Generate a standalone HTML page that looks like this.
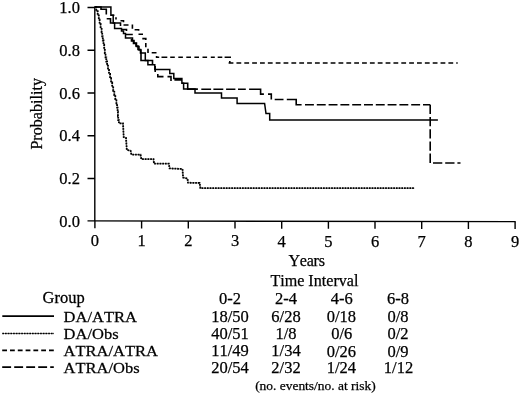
<!DOCTYPE html>
<html><head><meta charset="utf-8">
<style>
html,body{margin:0;padding:0;background:#fff;}
body{width:520px;height:393px;overflow:hidden;}
svg{display:block;}
text{font-family:"Liberation Serif",serif;fill:#000;stroke:#000;stroke-width:0.25;font-kerning:none;}
svg{filter:blur(0.35px);}
</style></head>
<body>
<svg width="520" height="393" viewBox="0 0 520 393">
<rect width="520" height="393" fill="#fff"/>
<!-- axes -->
<g stroke="#000" stroke-width="1.4" fill="none">
<path d="M94.8,6.3 V221"/>
<path d="M87.5,220.9 L515.7,221.66"/>
<!-- y ticks -->
<path d="M87.5,7.5 H95 M87.5,50.2 H95 M87.5,93 H95 M87.5,135.7 H95 M87.5,178.5 H95"/>
<!-- x ticks -->
<path d="M94.9,220.90 V228.30 M141.6,220.98 V228.38 M188.3,221.07 V228.47 M235.0,221.15 V228.55 M281.7,221.24 V228.64 M328.4,221.32 V228.72 M375.0,221.40 V228.80 M421.7,221.49 V228.89 M468.4,221.57 V228.97 M515.1,221.66 V229.06"/>
</g>
<!-- curves -->
<g fill="none" stroke="#000" stroke-width="1.6">
<path id="solid" stroke-width="1.5" d="M95,7 H110.9 V15.3 H113.2 V23 H114.6 V28.5 H121.5 V31 H123.5 V33.5 H125.5 V38 H132.5 V40.5 H134 V43 H136.5 V46.5 H139 V50 H141 V53 H145.3 V60.5 H147.9 V64.8 H154.8 V69.4 H169.8 V73.5 H173.8 V78.6 H181.9 V83.3 H183.6 V89 H195 V92.9 H221.5 V98 H237.1 V103.5 H264.6 L266,113.6 H269.7 V119.9 H437.9"/>
<path id="ldash1" d="M95,7 H101 V9.3 H106.3 V14.5 M106.7,18.8 H110.5 V23 H120.5 V26 M122,29.5 H126.5 V31 M125.5,34.5 H132.8 M131.5,39 V41 H133.5 V43.5 H136 V46 H138 V49.5 H140.5 V53 H141 V60.5 H147.9 H152.5 V64.8 M155.2,66 V72 M157.8,74 V76.6 H163.5 M167.5,76.6 H171 V81 M174.4,79.9 H181.9 M181.9,83.3 H187.7 V89.1 H197.9 M201.3,89.2 H211.1 M213.4,89.2 H223.3 M226.1,89.2 H235.4 M238,89.2 H245.8 M249.1,89.2 H260.6 V94.1 H263.9 M268,94.1 H271.3 V99.5 M274.7,99.5 H283.5 M286.8,99.5 H296.2 V104.7 H301.6"/>
<path id="ldash2" stroke-dasharray="8.9 2.9" d="M305,104.8 H430.2"/>
<path id="ldash3" stroke-dasharray="9.3 2.9" d="M430.2,104.8 V163 H460.5"/>
<path id="sdash1" d="M111.3,15.3 H114.4 M116,17.2 V19.5 M120.5,20.7 H123.5 V22.3 M123.5,25 H128.5 M132.4,24.5 V28.8 M134.6,29.7 H138.6 V30.7 M138.5,34.2 H143 M142.3,38.6 H145.8 V40 M145.8,43 V47.2 M148,48.8 V53 M151.7,52.8 H156.5 M156.6,56 V57.2 H159.2 M161.5,57.2 H167.3 M170.2,57.2 H174.8 M178.3,57.2 H182.9 M186.3,57.2 H191 M194.4,57.2 H199 M202.5,57.2 H207.1 M210.8,57.2 H214.8 M217.7,57.2 H222.3 M224.6,57.2 H231 M229.8,61 V63"/>
<path id="sdash2" stroke-dasharray="4.8 3.05" d="M228.6,63 H457.7"/>
<path id="dot" stroke-width="1.8" stroke-dasharray="1.7 1" d="M95.6,7 H96.3 V11.2 H97.7 V15.4 H98.8 V19.6 H99.6 V23.8 H100.6 V28.0 H101.6 V32.1 H102.2 V36.3 H102.8 V40.5 H103.5 V44.7 H104.2 V48.9 H104.8 V53.1 H105.5 V57.3 H106.3 V61.5 H107.1 V65.7 H108.0 V69.8 H109.0 V74.0 H110.1 V78.2 H111.1 V82.4 H112.2 V86.6 H113.2 V90.8 H114.3 V95.0 H115.3 V99.2 H116.4 V103.4 H117.1 V107.6 H117.6 V111.7 H117.9 V115.9 H118.2 V120.1 H118.9 V123.3 H123 L123.7,137 L126,137.8 L126.8,150 L130.6,150.7 L131.4,154.6 H140.5 L141.3,159.1 H153.5 L154,163.7 H168.8 L169.6,168.4 L182.5,169 L183.1,177.5 L187.5,178.6 L188,182.7 L199.6,183 L200.4,188.2 H414.4"/>
<path d="M95.6,7 H96.3 V11.2 H97.7 V15.4 H98.8 V19.6 H99.6 V23.8 H100.6 V28.0 H101.6 V32.1 H102.2 V36.3 H102.8 V40.5 H103.5 V44.7 H104.2 V48.9 H104.8 V53.1 H105.5 V57.3 H106.3 V61.5 H107.1 V65.7 H108.0 V69.8 H109.0 V74.0 H110.1 V78.2 H111.1 V82.4 H112.2 V86.6 H113.2 V90.8 H114.3 V95.0 H115.3 V99.2 H116.4 V103.4 H117.1 V107.6 H117.6 V111.7 H117.9 V115.9 H118.2 V120.1 H118.9 V123.3 H123 L123.7,137 L126,137.8 L126.8,150 L130.6,150.7 L131.4,154.6 H140.5 L141.3,159.1 H153.5 L154,163.7 H168.8 L169.6,168.4 L182.5,169 L183.1,177.5 L187.5,178.6 L188,182.7 L199.6,183 L200.4,188.2 H414.4" stroke-width="0.7" opacity="0.7"/>
</g>
<!-- axis labels -->
<g font-size="16.5">
<text x="79.9" y="13" text-anchor="end">1.0</text>
<text x="79.9" y="55.7" text-anchor="end">0.8</text>
<text x="79.9" y="98.5" text-anchor="end">0.6</text>
<text x="79.9" y="141.2" text-anchor="end">0.4</text>
<text x="79.9" y="184" text-anchor="end">0.2</text>
<text x="79.9" y="226.7" text-anchor="end">0.0</text>
<g text-anchor="middle">
<text x="94.9" y="246.30">0</text><text x="141.6" y="246.36">1</text><text x="188.3" y="246.41">2</text><text x="235.0" y="246.47">3</text><text x="281.7" y="246.52">4</text><text x="328.4" y="246.58">5</text><text x="375.0" y="246.64">6</text><text x="421.7" y="246.69">7</text><text x="468.4" y="246.75">8</text><text x="515.1" y="246.80">9</text>
</g>
</g>
<text font-size="16.1" transform="translate(42,149.6) rotate(-90)">Probability</text>
<g font-size="16.5">
<text x="306.6" y="266" text-anchor="middle" font-size="16.1" letter-spacing="-0.25">Years</text>
<text x="314.4" y="286.2" text-anchor="middle" font-size="16.1">Time Interval</text>
<text transform="translate(42.6,302.8) scale(1.05,1)" font-size="15.7">Group</text>
<text transform="translate(63.6,321.5) scale(1.058,1)" font-size="15.6">DA/ATRA</text>
<text transform="translate(63.6,339.1) scale(1.058,1)" font-size="15.6">DA/Obs</text>
<text transform="translate(63.6,355.8) scale(1.058,1)" font-size="15.6">ATRA/ATRA</text>
<text transform="translate(63.6,372.8) scale(1.058,1)" font-size="15.6">ATRA/Obs</text>
<g text-anchor="middle">
<text x="230" y="303.8">0-2</text><text x="286" y="303.8">2-4</text><text x="341.8" y="303.8">4-6</text><text x="398" y="303.8">6-8</text>
<text x="230" y="321.8">18/50</text><text x="286" y="321.8">6/28</text><text x="341.3" y="321.8">0/18</text><text x="398" y="321.8">0/8</text>
<text x="230" y="339.3">40/51</text><text x="286" y="339.3">1/8</text><text x="341.8" y="339.4">0/6</text><text x="398" y="339.4">0/2</text>
<text x="230" y="356.3">11/49</text><text x="286" y="356.3">1/34</text><text x="341.3" y="356.6">0/26</text><text x="398" y="356.6">0/9</text>
<text x="230" y="372.8">20/54</text><text x="286" y="372.8">2/32</text><text x="341.3" y="372.8">1/24</text><text x="398.5" y="372.8">1/12</text>
</g>
</g>
<text x="315.4" y="390" font-size="13.45" text-anchor="middle">(no. events/no. at risk)</text>
<!-- legend lines -->
<g fill="none" stroke="#000" stroke-width="1.7">
<path d="M2.3,316.1 H54"/>
<path d="M2.3,333.5 H54" stroke-dasharray="1.7 1"/><path d="M2.3,333.5 H54" stroke-width="0.7" opacity="0.7"/>
<path d="M2.2,350.3 H53.8" stroke-dasharray="4.8 3"/>
<path d="M2.2,367.1 H53.8" stroke-dasharray="8.9 3.1"/>
</g>
</svg>
</body></html>
